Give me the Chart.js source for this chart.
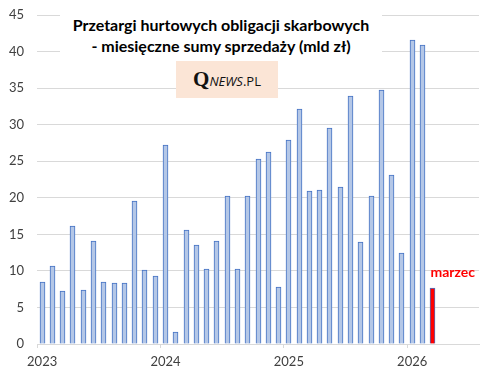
<!DOCTYPE html>
<html>
<head>
<meta charset="utf-8">
<script src="https://cdn.jsdelivr.net/npm/chart.js@4"></script>
<style>
  html, body { margin: 0; padding: 0; background: #fff; }
  #wrap { position: relative; width: 494px; height: 378px; }
  #title {
    position: absolute; left: 60px; top: 9px; width: 322px; height: 49px;
    background: #fff; text-align: center; padding-top: 5px; box-sizing: border-box;
    font-family: Lato, "Open Sans", sans-serif; font-weight: bold; font-size: 16px;
    line-height: 21px; color: #000;
  }
  #logo {
    position: absolute; left: 176px; top: 61px; width: 102px; height: 37px;
    background: #fbe5d6; text-align: center; line-height: 37px; color: #111;
  }
  #logo .q { font-family: "Liberation Serif", serif; font-weight: bold; font-size: 21px; }
  #logo .n { font-family: "Open Sans", sans-serif; font-style: italic; font-size: 13px; }
  #logo .p { font-family: "Open Sans", sans-serif; font-size: 13px; }
</style>
</head>
<body>
<div id="wrap">
  <canvas id="bonds" width="494" height="378"></canvas>
  <div id="title">Przetargi hurtowych obligacji skarbowych<br>- miesięczne sumy sprzedaży (mld zł)</div>
  <div id="logo"><span class="q">Q</span><span class="n">NEWS</span><span class="p">.PL</span></div>
</div>
<script>
// months on the axis (Jan 2023 .. Jul 2026, last ones empty)
const months = [
  '2023-01','2023-02','2023-03','2023-04','2023-05','2023-06','2023-07','2023-08','2023-09','2023-10','2023-11','2023-12',
  '2024-01','2024-02','2024-03','2024-04','2024-05','2024-06','2024-07','2024-08','2024-09','2024-10','2024-11','2024-12',
  '2025-01','2025-02','2025-03','2025-04','2025-05','2025-06','2025-07','2025-08','2025-09','2025-10','2025-11','2025-12',
  '2026-01','2026-02','2026-03','2026-04','2026-05','2026-06','2026-07'
];
// monthly sales, mld zł
const sales = [
  8.5, 10.7, 7.3, 16.1, 7.4, 14.1, 8.5, 8.3, 8.3, 19.5, 10.1, 9.3,
  27.2, 1.6, 15.6, 13.5, 10.3, 14.1, 20.2, 10.3, 20.3, 25.3, 26.2, 7.8,
  27.9, 32.2, 20.9, 21.1, 29.5, 21.5, 33.9, 13.9, 20.3, 34.8, 23.1, 12.5,
  41.6, 40.9, 7.7
];
const yTicks = [0, 5, 10, 15, 20, 25, 30, 35, 40, 45];
const lastLabel = 'marzec';

const fillColors = sales.map((v, i) => i === sales.length - 1 ? '#ff0000' : '#b4c7e7');

// snap bars to whole pixels so the thin outlines stay sharp
const snapBars = {
  id: 'snapBars',
  afterDatasetsUpdate(chart) {
    chart.getDatasetMeta(0).data.forEach(b => {
      b.x = Math.round(b.x - 0.5) + 0.5;
      b.y = Math.round(b.y);
    });
  }
};

const marchLabel = {
  id: 'marchLabel',
  afterDatasetsDraw(chart) {
    const bar = chart.getDatasetMeta(0).data[sales.length - 1];
    const c = chart.ctx;
    c.save();
    c.font = 'bold 14px Lato, sans-serif';
    c.fillStyle = '#ff0000';
    c.textAlign = 'left';
    c.textBaseline = 'middle';
    c.fillText(lastLabel, bar.x - 2, bar.y - 16);
    c.restore();
  }
};

new Chart(document.getElementById('bonds'), {
  type: 'bar',
  data: {
    labels: months,
    datasets: [{
      data: sales,
      backgroundColor: fillColors,
      borderColor: '#4472c4',
      borderWidth: 1,
      barThickness: 5
    }]
  },
  options: {
    responsive: false,
    animation: false,
    events: [],
    layout: { padding: { left: 0, right: 15, top: 15, bottom: 0 } },
    plugins: { legend: { display: false }, tooltip: { enabled: false } },
    scales: {
      x: {
        offset: true,
        grid: {
          offset: true,
          drawOnChartArea: false,
          tickLength: 4,
          color: ctx => (ctx.index % 12 === 0 ? '#d9d9d9' : 'rgba(0,0,0,0)')
        },
        border: { display: true, color: '#d9d9d9' },
        ticks: {
          autoSkip: false,
          maxRotation: 0,
          padding: 6,
          color: '#404040',
          font: { family: 'Lato', size: 13 },
          callback: (v, i) => (months[i].endsWith('-01') ? months[i].slice(0, 4) : '')
        },
        afterFit: s => { s.height = 34; }
      },
      y: {
        min: 0,
        max: 45,
        afterBuildTicks: s => { s.ticks = yTicks.map(v => ({ value: v })); },
        grid: { color: '#d9d9d9', drawTicks: false },
        border: { display: false },
        ticks: {
          padding: 13,
          color: '#404040',
          font: { family: 'Lato', size: 13 }
        },
        // fixed width, and no extra room above the top tick
        afterFit: s => { s.width = 37; s.paddingTop = 0; s.paddingBottom = 0; }
      }
    }
  },
  plugins: [snapBars, marchLabel]
});
</script>
</body>
</html>
